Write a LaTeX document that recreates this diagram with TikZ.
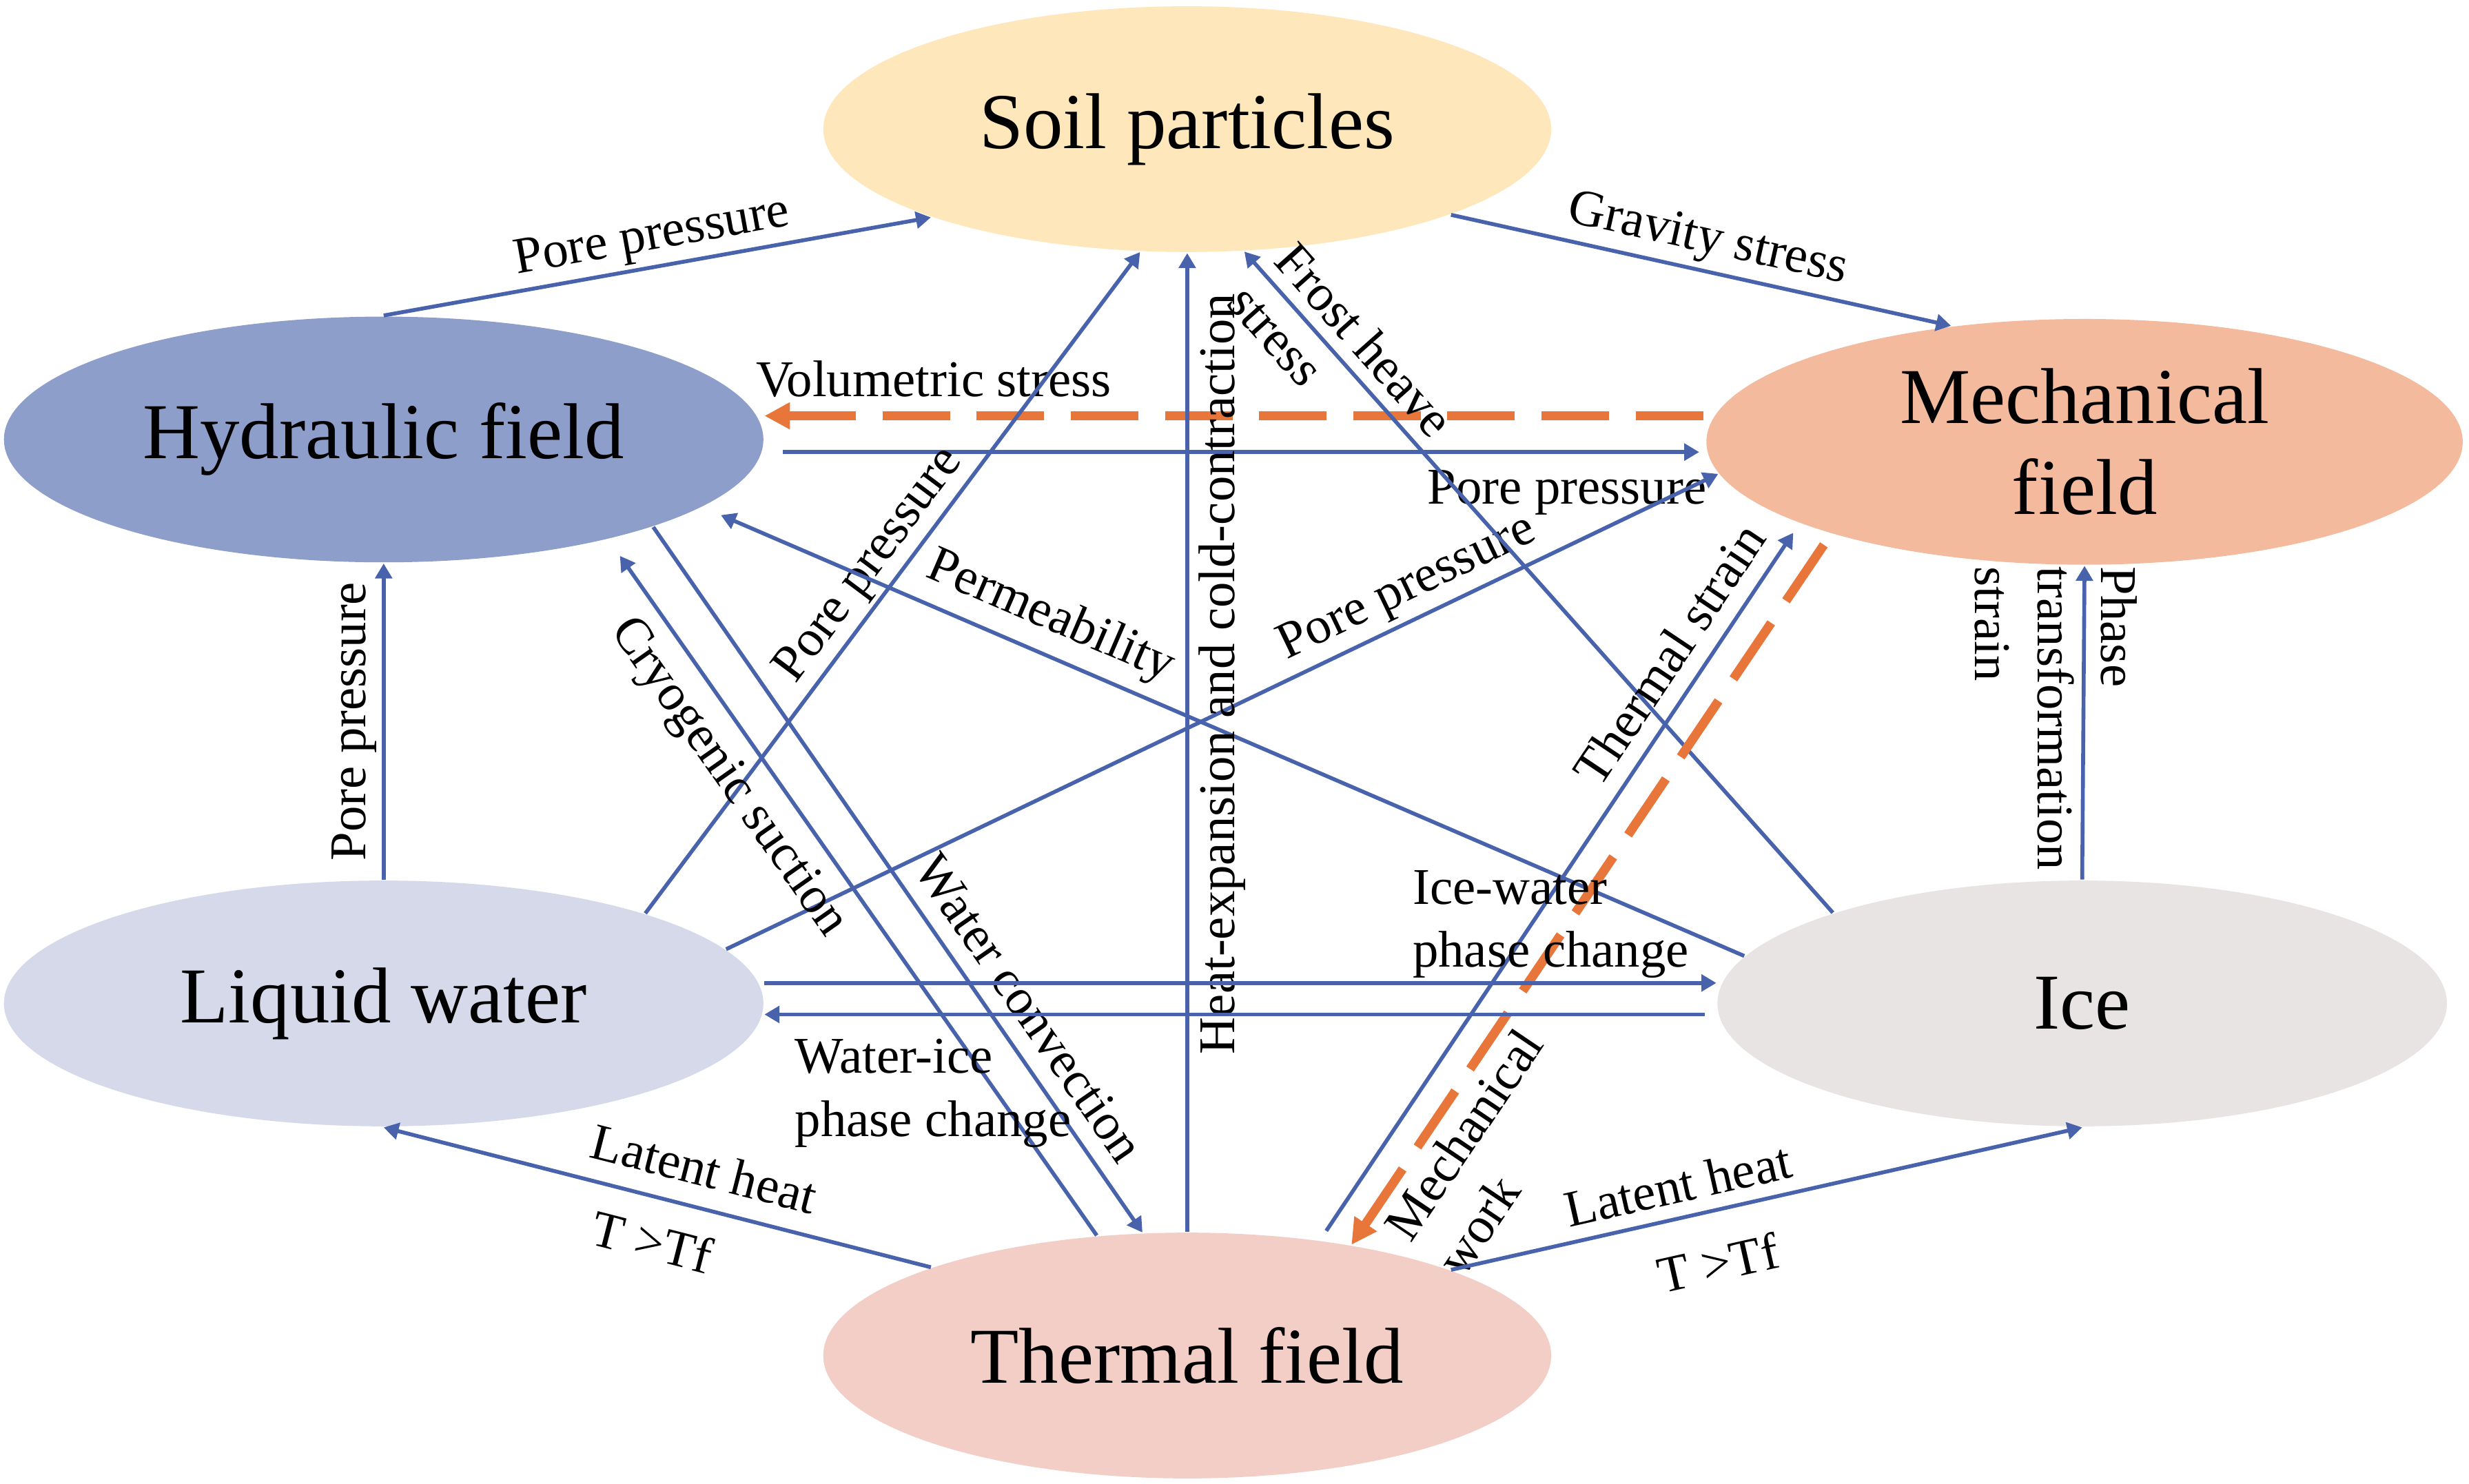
\documentclass[tikz,border=0pt]{standalone}
\usepackage{fontspec}
\setmainfont{Liberation Serif}
\usetikzlibrary{arrows.meta,shapes.geometric}
\definecolor{soilc}{RGB}{253,231,187}
\definecolor{hydc}{RGB}{142,158,202}
\definecolor{mechc}{RGB}{243,186,157}
\definecolor{liqc}{RGB}{213,217,234}
\definecolor{icec}{RGB}{233,228,228}
\definecolor{thermc}{RGB}{242,206,199}
\definecolor{linkblue}{RGB}{72,99,172}
\definecolor{mechorange}{RGB}{232,118,58}
\tikzset{
  field/.style={ellipse, inner sep=0pt, minimum height=1.56cm, align=center,
    font=\fontsize{14.3}{16.5}\selectfont},
  link/.style={draw=linkblue, line width=0.7pt, >={Triangle[length=2.7pt,width=3pt]}},
  mlink/.style={draw=mechorange, line width=1.65pt, dash pattern=on 12.2pt off 4.8pt,
    >={Triangle[length=4.6pt,width=4.6pt]}},
  lbl/.style={font=\fontsize{9.3}{11.4}\selectfont, inner sep=0.5pt}
}
\begin{document}
\begin{tikzpicture}
\useasboundingbox (0,0) rectangle (15.67,9.42);
% fields
\foreach \nm/\x/\y/\fw/\col/\txt in
  {soil/7.535/8.60/4.62/soilc/{Soil particles},
   hyd/2.435/6.63/4.82/hydc/{Hydraulic field},
   mech/13.23/6.615/4.80/mechc/{Mechanical\\field},
   liq/2.435/3.05/4.82/liqc/{Liquid water},
   ice/13.215/3.05/4.63/icec/{Ice},
   therm/7.535/0.815/4.62/thermc/{Thermal field}}
  \node[field, fill=\col, minimum width=\fw cm] (\nm) at (\x,\y) {\txt};

% top row
\draw[link,->] (hyd.north) -- node[lbl, sloped, above=0.3pt] (l1) {Pore pressure} (soil.199.1);
\draw[link,->] (soil.-18.3) -- node[lbl, sloped, above=0.5pt] (l2) {Gravity stress} (mech.139.3);
\draw[mlink,<-] ([yshift=1.5mm]hyd.east) -- node[lbl, above=2pt, pos=0.18] (l3) {Volumetric stress}
  ([yshift=1.5mm]hyd.east -| mech.west);
\draw[link,->, shorten <=3.3pt, shorten >=1.1pt] ([yshift=-0.8mm]hyd.east) -- node[lbl, below=2.4pt, pos=0.853] (l4) {Pore pressure}
  ([yshift=-0.8mm]hyd.east -| mech.west);

% crossing links
\draw[link,->] (liq.9.3) -- node[lbl, sloped, above=0.6pt, pos=0.7] (l5) {Pore pressure} (mech.185.9);
\draw[link,->] (liq.19.1) -- node[lbl, sloped, above=0.2pt, pos=0.5] (l6) {Pore pressure} (soil.249.8);
\draw[link,->] (liq.north) -- node[lbl, sloped, above=0.5pt] (l7) {Pore pressure} (hyd.south);
\draw[link,<-, shorten <=3.6pt] (hyd.-24.8) -- node[lbl, sloped, below=2.2pt, pos=0.31] (l8) {Cryogenic suction} (therm.127.8);
\draw[link,->] (hyd.-18.3) -- node[lbl, sloped, above=2.3pt, pos=0.71] (l9) {Water convection} (therm.110.6);
\draw[link,<-, shorten <=3.6pt] (hyd.-12.8) -- node[lbl, sloped, above=1.5pt, pos=0.32] (l10) {Permeability} (ice.172.4);
\draw[link,->] (therm.north) -- node[lbl, sloped, below=1.2pt, pos=0.57] (l11) {Heat-expansion and cold-contraction} (soil.south);
\draw[link,<-] (soil.-65.6) -- node[lbl, sloped, align=left, pos=0.165] (l12) {Frost heave\\stress} (ice.160);
\draw[link,->, shorten <=2pt, shorten >=2pt] (therm.41.6) -- node[lbl, sloped, above=2.3pt, pos=0.79] (l13) {Thermal strain} (mech.196.4);
\draw[mlink,<-] (therm.34.2) -- node[lbl, sloped, below=1pt, align=left, pos=0.18] (l14) {Mechanical\\work} (mech.200.8);

% ice and liquid water
\draw[link,->] (ice.north) -- (mech.south);
\node[lbl, rotate=-90, align=left, anchor=north west, inner sep=0pt] (l15) at ([xshift=3.4mm]mech.south) {Phase\\transformation\\strain};
\draw[link,->] ([yshift=1.3mm]liq.east) -- node[lbl, above=0pt, align=left, pos=0.826] (l16) {Ice-water\\phase change}
  ([yshift=1.3mm]liq.east -| ice.west);
\draw[link,<-, shorten >=2.1pt] ([yshift=-0.7mm]liq.east) -- node[lbl, below=3.6pt, align=left, pos=0.177] (l17) {Water-ice\\phase change}
  ([yshift=-0.7mm]liq.east -| ice.west);

% latent heat
\draw[link,<-] (liq.south) -- node[lbl, sloped, above=3pt, pos=0.568] (l18) {Latent heat}
  node[lbl, sloped, below=3.8pt, pos=0.511] (l19) {T >Tf} (therm.161);
\draw[link,->] (therm.18.7) -- node[lbl, sloped, above=1.8pt, pos=0.371] (l20) {Latent heat}
  node[lbl, sloped, below=5.2pt, pos=0.405] (l21) {T >Tf} (ice.south);
\end{tikzpicture}
\end{document}
